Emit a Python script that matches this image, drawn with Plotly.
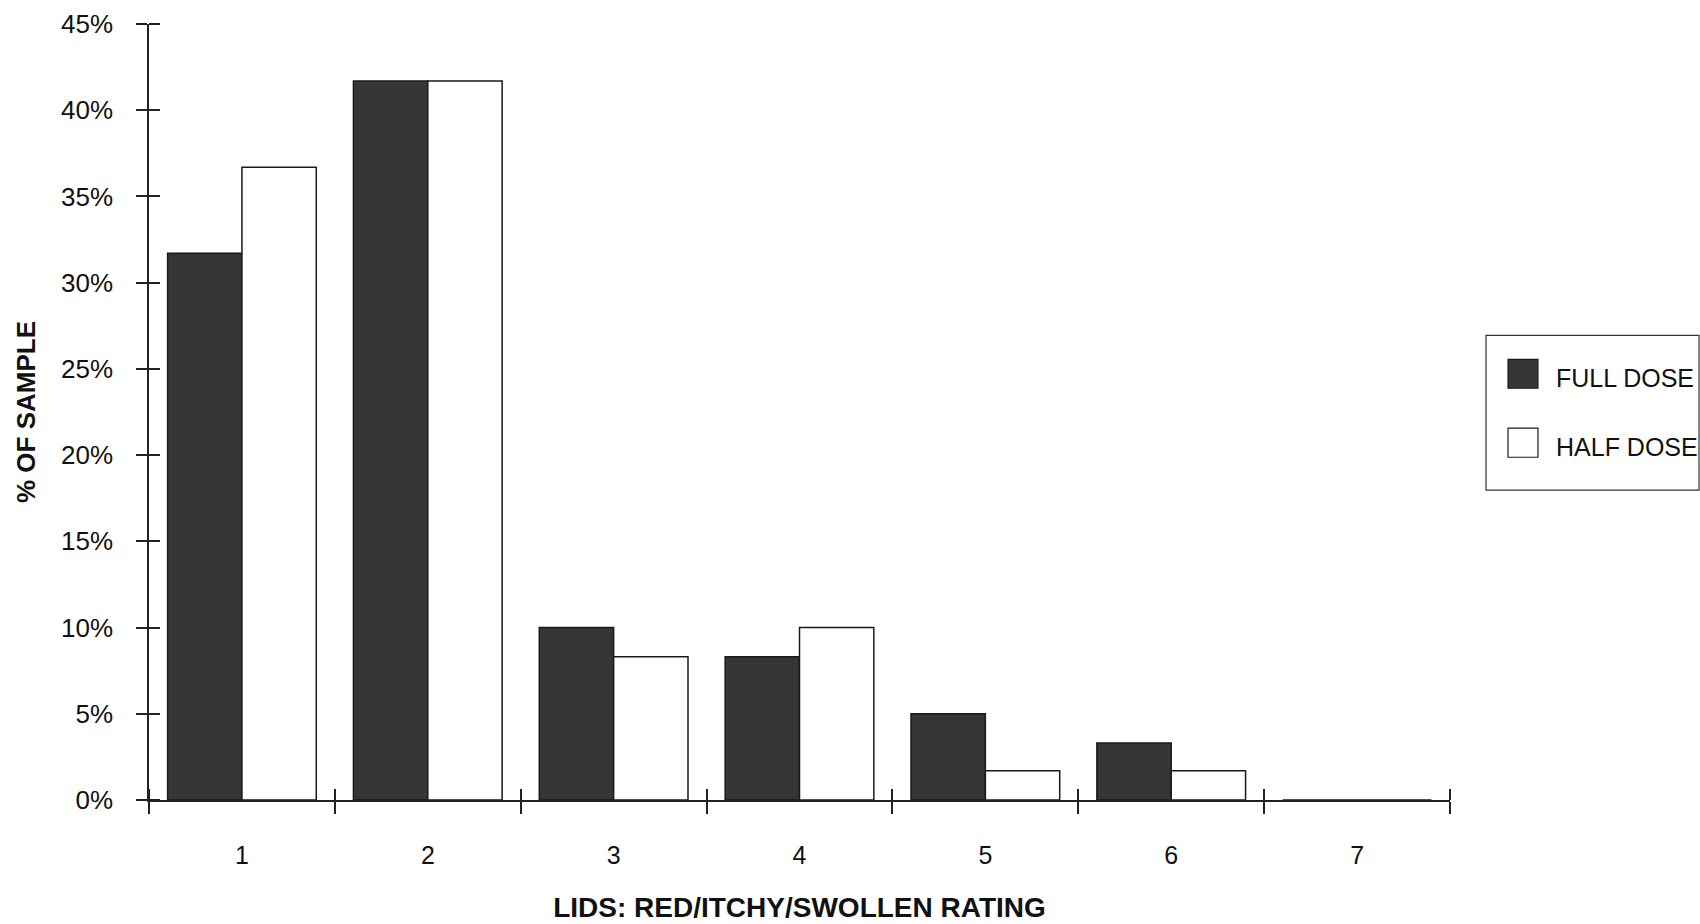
import plotly.graph_objects as go

# ---- data ----
ratings = [1, 2, 3, 4, 5, 6, 7]
rating_labels = ["1", "2", "3", "4", "5", "6", "7"]
full_dose = [0.317, 0.417, 0.100, 0.083, 0.050, 0.033, 0.0]
half_dose = [0.367, 0.417, 0.083, 0.100, 0.017, 0.017, 0.0]
y_ticks = [0, 0.05, 0.10, 0.15, 0.20, 0.25, 0.30, 0.35, 0.40, 0.45]
boundaries = [0.5, 1.5, 2.5, 3.5, 4.5, 5.5, 6.5, 7.5]

# ---- style ----
FONT = "Liberation Sans, Arial, Helvetica, sans-serif"
DARK = "#363636"
LINE = "#1a1a1a"
AX = "#222222"
EPS = 1e-6  # minor ticks nudged off the major ones so both halves of a crossing tick draw

fig = go.Figure()
fig.add_trace(go.Bar(x=ratings, y=full_dose, name="FULL DOSE",
                     marker=dict(color=DARK, line=dict(color=LINE, width=1.5)),
                     showlegend=False))
fig.add_trace(go.Bar(x=ratings, y=half_dose, name="HALF DOSE",
                     marker=dict(color="white", line=dict(color=LINE, width=1.5)),
                     showlegend=False))

fig.update_layout(
    width=1700, height=924,
    margin=dict(l=149, r=250, t=24, b=124),
    paper_bgcolor="white", plot_bgcolor="white",
    barmode="group", bargap=0.2, bargroupgap=0,
    font=dict(family=FONT, color="#111111"),
    xaxis=dict(range=[0.5, 7.5], automargin=False,
               tickmode="array", tickvals=boundaries, ticktext=rating_labels + [""],
               ticklabelshift=93,
               ticks="outside", ticklen=12, tickwidth=1.5, tickcolor=AX,
               showgrid=False, zeroline=False,
               showline=True, linecolor=AX, linewidth=1.5,
               tickfont=dict(size=25, family=FONT), ticklabelstandoff=20,
               minor=dict(tickmode="array", tickvals=[b + EPS for b in boundaries],
                          ticks="inside", ticklen=11, tickwidth=1.5, tickcolor=AX,
                          showgrid=False),
               title=dict(text="<b>LIDS: RED/ITCHY/SWOLLEN RATING</b>",
                          font=dict(size=28, family=FONT), standoff=30)),
    yaxis=dict(range=[0, 0.45], automargin=False,
               tickmode="array", tickvals=y_ticks, tickformat=".0%",
               ticks="outside", ticklen=11, tickwidth=1.5, tickcolor=AX,
               showgrid=False, zeroline=False,
               showline=True, linecolor=AX, linewidth=1.5,
               tickfont=dict(size=26, family=FONT), ticklabelstandoff=18,
               minor=dict(tickmode="array", tickvals=[v + EPS for v in y_ticks],
                          ticks="inside", ticklen=11, tickwidth=1.5, tickcolor=AX,
                          showgrid=False),
               title=dict(text="<b>% OF SAMPLE</b>", font=dict(size=26, family=FONT),
                          standoff=18)),
)

# ---- legend (drawn to match the reference's large swatches) ----
legend_items = [("FULL DOSE", DARK, 0.5306, 0.5679, 0.5435),
                ("HALF DOSE", "white", 0.4417, 0.4791, 0.4546)]
fig.add_shape(type="rect", xref="paper", yref="paper",
              x0=1.0277, x1=1.1914, y0=0.3992, y1=0.5988,
              line=dict(color="#333333", width=1.2), fillcolor="white", layer="above")
for name, col, y0, y1, ty in legend_items:
    fig.add_shape(type="rect", xref="paper", yref="paper",
                  x0=1.0446, x1=1.0676, y0=y0, y1=y1,
                  line=dict(color=LINE, width=1.2), fillcolor=col, layer="above")
    fig.add_annotation(text=name, xref="paper", yref="paper", x=1.0800, y=ty,
                       xanchor="left", yanchor="middle", showarrow=False,
                       font=dict(size=25, family=FONT, color="#111111"))

fig.write_html("out.html")
